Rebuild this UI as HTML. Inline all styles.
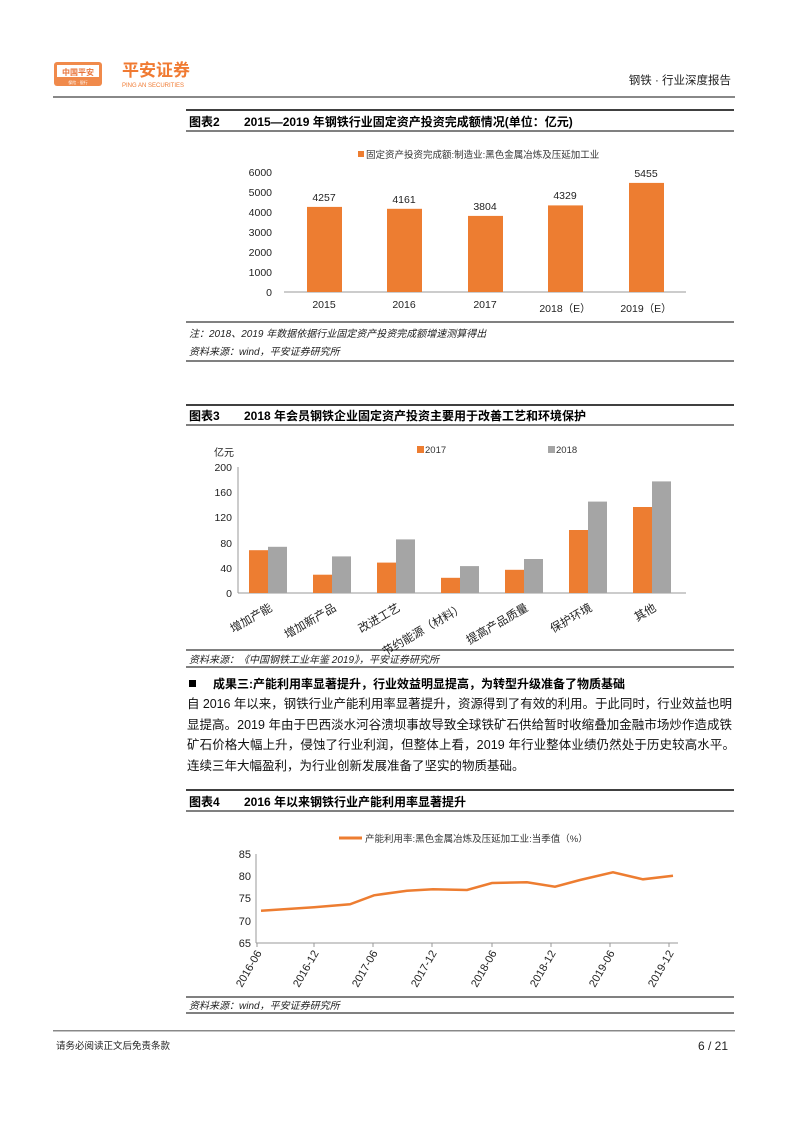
<!DOCTYPE html>
<html><head><meta charset="utf-8"><style>
html,body{margin:0;padding:0;background:#fff}
svg{display:block;font-family:"Liberation Sans","Noto Sans CJK SC",sans-serif}
</style></head><body>
<svg width="793" height="1122" viewBox="0 0 793 1122">
<!-- header -->
<rect x="54" y="62" width="48" height="24" rx="3" fill="#f08a4b"/>
<rect x="57" y="65" width="42" height="12" fill="#fff"/>
<text x="78" y="75" font-size="8" fill="#e8743a" text-anchor="middle" font-weight="bold">中国平安</text>
<text x="78" y="84" font-size="4" fill="#fff" text-anchor="middle">保险 · 银行</text>
<text x="122" y="76" font-size="17" fill="#f07a32" font-weight="bold">平安证券</text>
<text x="122" y="87" font-size="6" fill="#f07a32">PING AN SECURITIES</text>
<text x="731" y="84" font-size="11.5" fill="#222" text-anchor="end">钢铁 · 行业深度报告</text>
<rect x="53" y="96" width="682" height="2" fill="#888"/>

<!-- Chart 2 -->
<line x1="186" y1="110" x2="734" y2="110" stroke="#000" stroke-width="1.5"/>
<text x="189" y="126" font-size="12" font-weight="bold">图表2</text>
<text x="244" y="126" font-size="12" font-weight="bold">2015—2019 年钢铁行业固定资产投资完成额情况(单位：亿元)</text>
<line x1="186" y1="131" x2="734" y2="131" stroke="#000" stroke-width="1"/>
<rect x="358" y="151" width="6" height="6" fill="#ed7d31"/>
<text x="366" y="158" font-size="9.5" fill="#333">固定资产投资完成额:制造业:黑色金属冶炼及压延加工业</text>
<g font-size="10.5" fill="#222" text-anchor="end">
<text x="272" y="176">6000</text><text x="272" y="196">5000</text><text x="272" y="216">4000</text>
<text x="272" y="236">3000</text><text x="272" y="256">2000</text><text x="272" y="276">1000</text><text x="272" y="296">0</text>
</g>
<line x1="284" y1="292" x2="686" y2="292" stroke="#999"/>
<g fill="#ed7d31">
<rect x="307" y="206.9" width="35" height="85.1"/>
<rect x="387" y="208.8" width="35" height="83.2"/>
<rect x="468" y="215.9" width="35" height="76.1"/>
<rect x="548" y="205.4" width="35" height="86.6"/>
<rect x="629" y="182.9" width="35" height="109.1"/>
</g>
<g font-size="10.5" fill="#222" text-anchor="middle">
<text x="324" y="201">4257</text><text x="404" y="203">4161</text><text x="485" y="210">3804</text>
<text x="565" y="199">4329</text><text x="646" y="177">5455</text>
<text x="324" y="308">2015</text><text x="404" y="308">2016</text><text x="485" y="308">2017</text>
<text x="565" y="312">2018（E）</text><text x="646" y="312">2019（E）</text>
</g>
<line x1="186" y1="322" x2="734" y2="322" stroke="#000" stroke-width="1"/>
<text x="189" y="337" font-size="10" font-style="italic" fill="#222">注：2018、2019 年数据依据行业固定资产投资完成额增速测算得出</text>
<text x="189" y="355" font-size="10" font-style="italic" fill="#222">资料来源：wind，平安证券研究所</text>
<line x1="186" y1="361" x2="734" y2="361" stroke="#000" stroke-width="1"/>

<!-- Chart 3 -->
<line x1="186" y1="405" x2="734" y2="405" stroke="#000" stroke-width="1.5"/>
<text x="189" y="420" font-size="12" font-weight="bold">图表3</text>
<text x="244" y="420" font-size="12" font-weight="bold">2018 年会员钢铁企业固定资产投资主要用于改善工艺和环境保护</text>
<line x1="186" y1="425" x2="734" y2="425" stroke="#000" stroke-width="1"/>
<rect x="417" y="446" width="7" height="7" fill="#ed7d31"/>
<text x="425" y="453" font-size="9.5" fill="#333">2017</text>
<rect x="548" y="446" width="7" height="7" fill="#a5a5a5"/>
<text x="556" y="453" font-size="9.5" fill="#333">2018</text>
<text x="214" y="456" font-size="10" fill="#222">亿元</text>
<g font-size="10.5" fill="#222" text-anchor="end">
<text x="232" y="471">200</text><text x="232" y="496">160</text><text x="232" y="521">120</text>
<text x="232" y="547">80</text><text x="232" y="572">40</text><text x="232" y="597">0</text>
</g>
<line x1="238" y1="467" x2="238" y2="593" stroke="#999"/>
<line x1="238" y1="593" x2="686" y2="593" stroke="#999"/>
<g fill="#ed7d31">
<rect x="249" y="550.2" width="19" height="42.8"/>
<rect x="313" y="574.7" width="19" height="18.3"/>
<rect x="377" y="562.6" width="19" height="30.4"/>
<rect x="441" y="577.8" width="19" height="15.2"/>
<rect x="505" y="569.8" width="19" height="23.2"/>
<rect x="569" y="530" width="19" height="63"/>
<rect x="633" y="507" width="19" height="86"/>
</g>
<g fill="#a5a5a5">
<rect x="268" y="546.8" width="19" height="46.2"/>
<rect x="332" y="556.4" width="19" height="36.6"/>
<rect x="396" y="539.4" width="19" height="53.6"/>
<rect x="460" y="566.1" width="19" height="26.9"/>
<rect x="524" y="559" width="19" height="34"/>
<rect x="588" y="501.6" width="19" height="91.4"/>
<rect x="652" y="481.4" width="19" height="111.6"/>
</g>
<g font-size="11.5" fill="#222" text-anchor="end">
<text transform="translate(273,610) rotate(-30)">增加产能</text>
<text transform="translate(337,610) rotate(-30)">增加新产品</text>
<text transform="translate(401,610) rotate(-30)">改进工艺</text>
<text transform="translate(465,610) rotate(-30)">节约能源（材料）</text>
<text transform="translate(529,610) rotate(-30)">提高产品质量</text>
<text transform="translate(593,610) rotate(-30)">保护环境</text>
<text transform="translate(657,610) rotate(-30)">其他</text>
</g>
<line x1="186" y1="650" x2="734" y2="650" stroke="#000" stroke-width="1"/>
<text x="189" y="663" font-size="10" font-style="italic" fill="#222">资料来源：《中国钢铁工业年鉴 2019》，平安证券研究所</text>
<line x1="186" y1="667" x2="734" y2="667" stroke="#000" stroke-width="1"/>

<!-- text -->
<rect x="189" y="680" width="7" height="7" fill="#000"/>
<text x="213" y="688" font-size="12" font-weight="bold">成果三:产能利用率显著提升，行业效益明显提高，为转型升级准备了物质基础</text>
<g font-size="12.5" fill="#111">
<text x="187" y="708" textLength="545" lengthAdjust="spacing">自 2016 年以来，钢铁行业产能利用率显著提升，资源得到了有效的利用。于此同时，行业效益也明</text>
<text x="187" y="729" textLength="545" lengthAdjust="spacing">显提高。2019 年由于巴西淡水河谷溃坝事故导致全球铁矿石供给暂时收缩叠加金融市场炒作造成铁</text>
<text x="187" y="749" textLength="548" lengthAdjust="spacing">矿石价格大幅上升，侵蚀了行业利润，但整体上看，2019 年行业整体业绩仍然处于历史较高水平。</text>
<text x="187" y="770">连续三年大幅盈利，为行业创新发展准备了坚实的物质基础。</text>
</g>

<!-- Chart 4 -->
<line x1="186" y1="790" x2="734" y2="790" stroke="#000" stroke-width="1.5"/>
<text x="189" y="806" font-size="12" font-weight="bold">图表4</text>
<text x="244" y="806" font-size="12" font-weight="bold">2016 年以来钢铁行业产能利用率显著提升</text>
<line x1="186" y1="811" x2="734" y2="811" stroke="#000" stroke-width="1"/>
<line x1="339" y1="838" x2="362" y2="838" stroke="#ed7d31" stroke-width="3"/>
<text x="365" y="842" font-size="9.5" fill="#333">产能利用率:黑色金属冶炼及压延加工业:当季值（%）</text>
<g font-size="11" fill="#222" text-anchor="end">
<text x="251" y="858">85</text><text x="251" y="880">80</text><text x="251" y="902">75</text>
<text x="251" y="925">70</text><text x="251" y="947">65</text>
</g>
<line x1="256" y1="854" x2="256" y2="943" stroke="#999"/>
<line x1="256" y1="943" x2="678" y2="943" stroke="#999"/>
<g stroke="#999"><line x1="257" y1="943" x2="257" y2="947"/><line x1="314" y1="943" x2="314" y2="947"/><line x1="373" y1="943" x2="373" y2="947"/><line x1="432" y1="943" x2="432" y2="947"/><line x1="492" y1="943" x2="492" y2="947"/><line x1="551" y1="943" x2="551" y2="947"/><line x1="610" y1="943" x2="610" y2="947"/><line x1="669" y1="943" x2="669" y2="947"/></g>
<polyline fill="none" stroke="#ed7d31" stroke-width="2.5" points="261,910.7 314,907.3 350,904.3 374,895.3 407,890.7 433,889.3 467,890 492,883 527,882.3 555,886.7 580,880 613,872.3 643,879.3 673,875.7"/>
<g font-size="11" fill="#222" text-anchor="end">
<text transform="translate(262,953) rotate(-60)">2016-06</text>
<text transform="translate(319,953) rotate(-60)">2016-12</text>
<text transform="translate(378,953) rotate(-60)">2017-06</text>
<text transform="translate(437,953) rotate(-60)">2017-12</text>
<text transform="translate(497,953) rotate(-60)">2018-06</text>
<text transform="translate(556,953) rotate(-60)">2018-12</text>
<text transform="translate(615,953) rotate(-60)">2019-06</text>
<text transform="translate(674,953) rotate(-60)">2019-12</text>
</g>
<line x1="186" y1="997" x2="734" y2="997" stroke="#000" stroke-width="1"/>
<text x="189" y="1009" font-size="10" font-style="italic" fill="#222">资料来源：wind，平安证券研究所</text>
<line x1="186" y1="1013" x2="734" y2="1013" stroke="#000" stroke-width="1"/>

<!-- footer -->
<rect x="53" y="1030" width="682" height="1.5" fill="#888"/>
<text x="56" y="1049" font-size="9.5" fill="#222">请务必阅读正文后免责条款</text>
<text x="728" y="1050" font-size="12" fill="#222" text-anchor="end">6 / 21</text>
</svg>
</body></html>
